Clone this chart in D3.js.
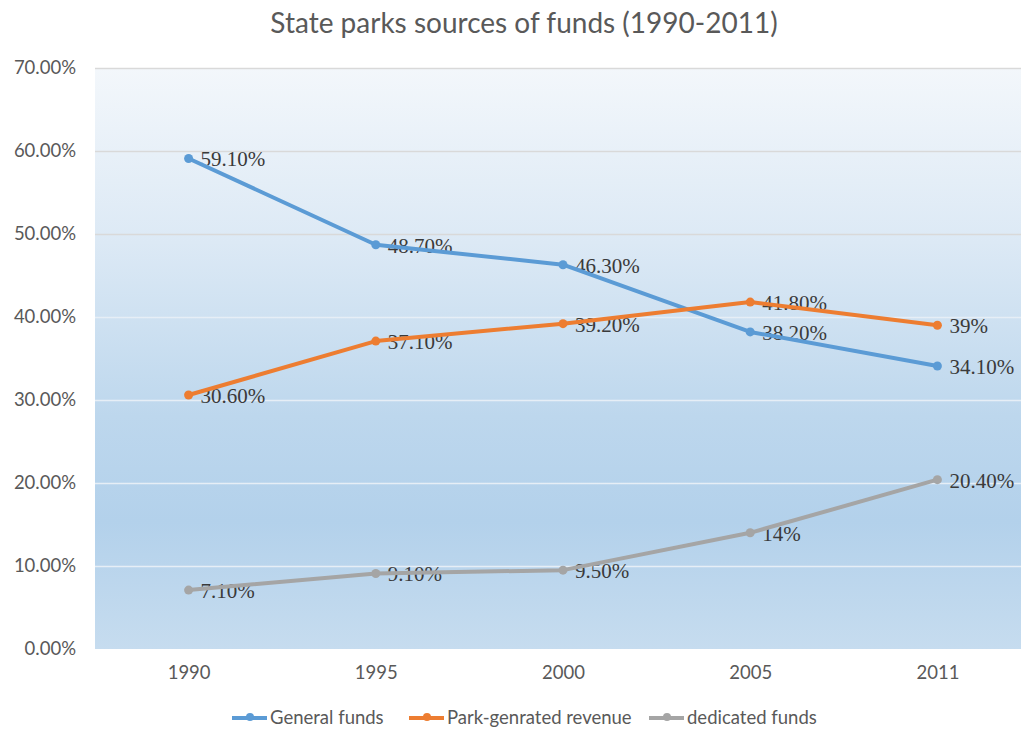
<!DOCTYPE html>
<html>
<head>
<meta charset="utf-8">
<script src="https://cdn.jsdelivr.net/npm/d3@7"></script>
<style>
  html, body { margin: 0; padding: 0; background: #ffffff; }
  svg { display: block; }
</style>
</head>
<body>
<svg id="chart" width="1021" height="732"></svg>
<script>
const years = ["1990", "1995", "2000", "2005", "2011"];
const generalFunds = [59.1, 48.7, 46.3, 38.2, 34.1];
const parkRevenue = [30.6, 37.1, 39.2, 41.8, 39.0];
const dedicatedFunds = [7.1, 9.1, 9.5, 14.0, 20.4];
const generalLabels = ["59.10%", "48.70%", "46.30%", "38.20%", "34.10%"];
const parkLabels = ["30.60%", "37.10%", "39.20%", "41.80%", "39%"];
const dedicatedLabels = ["7.10%", "9.10%", "9.50%", "14%", "20.40%"];
const seriesNames = ["General funds", "Park-genrated revenue", "dedicated funds"];
const yTicks = [0, 10, 20, 30, 40, 50, 60, 70];
const chartTitle = "State parks sources of funds (1990-2011)";

const series = [
  { name: seriesNames[0], values: generalFunds, labels: generalLabels, color: "#5b9bd5" },
  { name: seriesNames[1], values: parkRevenue, labels: parkLabels, color: "#ed7d31" },
  { name: seriesNames[2], values: dedicatedFunds, labels: dedicatedLabels, color: "#a5a5a5" }
];

const svg = d3.select("#chart");
const plot = { left: 95, right: 1031, top: 68, bottom: 649 };

const x = d3.scalePoint().domain(years).range([plot.left, plot.right]).padding(0.5);
const y = d3.scaleLinear().domain([0, 70]).range([plot.bottom, plot.top]);

const defs = svg.append("defs");
const grad = defs.append("linearGradient").attr("id", "bg").attr("x1", 0).attr("y1", 0).attr("x2", 0).attr("y2", 1);
[["0%", "#f3f7fb"], ["30%", "#dce9f5"], ["60%", "#bdd7ed"], ["78%", "#b3d1eb"], ["100%", "#c6dcef"]]
  .forEach(([o, c]) => grad.append("stop").attr("offset", o).attr("stop-color", c));

svg.append("rect")
  .attr("x", plot.left).attr("y", plot.top)
  .attr("width", plot.right - plot.left).attr("height", plot.bottom - plot.top)
  .attr("fill", "url(#bg)");

const sansFont = "Lato, 'Open Sans', sans-serif";

// grid lines + y axis
const yAxis = d3.axisLeft(y).tickValues(yTicks).tickSize(-(plot.right - plot.left))
  .tickFormat(d => d3.format(".2f")(d) + "%");
const gy = svg.append("g").attr("transform", `translate(${plot.left},0)`).call(yAxis);
gy.select(".domain").remove();
gy.selectAll(".tick line")
  .attr("stroke", d => d === 0 ? "none" : (d >= 50 ? "#d9d9d9" : "#e6eef6"))
  .attr("stroke-width", 1.5);
gy.selectAll(".tick text")
  .attr("x", -19)
  .attr("fill", "#595959")
  .style("font-family", sansFont)
  .style("font-size", "18.5px");

// x axis
const xAxis = d3.axisBottom(x).tickSize(0).tickPadding(17);
const gx = svg.append("g").attr("transform", `translate(0,${plot.bottom})`).call(xAxis);
gx.select(".domain").remove();
gx.selectAll(".tick text")
  .attr("fill", "#595959")
  .style("font-family", sansFont)
  .style("font-size", "18.5px");

// data labels (underneath lines)
series.forEach(s => {
  svg.append("g").selectAll("text").data(s.values).join("text")
    .attr("x", (d, i) => x(years[i]) + 12)
    .attr("y", (d, i) => y(d) + 8)
    .attr("fill", "#3a3a3a")
    .style("font-family", "'Liberation Serif', 'Times New Roman', serif")
    .style("font-size", "21px")
    .text((d, i) => s.labels[i]);
});

// lines
const line = d3.line().x((d, i) => x(years[i])).y(d => y(d));
series.forEach(s => {
  svg.append("path").datum(s.values)
    .attr("d", line)
    .attr("fill", "none")
    .attr("stroke", s.color)
    .attr("stroke-width", 4)
    .attr("stroke-linejoin", "round")
    .attr("stroke-linecap", "round");
  svg.append("g").selectAll("circle").data(s.values).join("circle")
    .attr("cx", (d, i) => x(years[i]))
    .attr("cy", d => y(d))
    .attr("r", 4.5)
    .attr("fill", s.color);
});

// title
svg.append("text")
  .attr("x", 524).attr("y", 33)
  .attr("text-anchor", "middle")
  .attr("fill", "#595959")
  .style("font-family", sansFont)
  .style("font-size", "28px")
  .text(chartTitle);

// legend
const legendTextX = [270, 447, 687];
const legendY = 718;
const lg = svg.append("g").selectAll("g").data(series).join("g")
  .attr("transform", (d, i) => `translate(${legendTextX[i]},${legendY})`);
lg.append("line").attr("x1", -38).attr("x2", -3).attr("y1", 0).attr("y2", 0)
  .attr("stroke", d => d.color).attr("stroke-width", 4);
lg.append("circle").attr("cx", -20).attr("cy", -1).attr("r", 4).attr("fill", d => d.color);
lg.append("text").attr("x", 0).attr("y", 6)
  .attr("fill", "#595959")
  .style("font-family", sansFont)
  .style("font-size", "18.5px")
  .text(d => d.name);
</script>
</body>
</html>
